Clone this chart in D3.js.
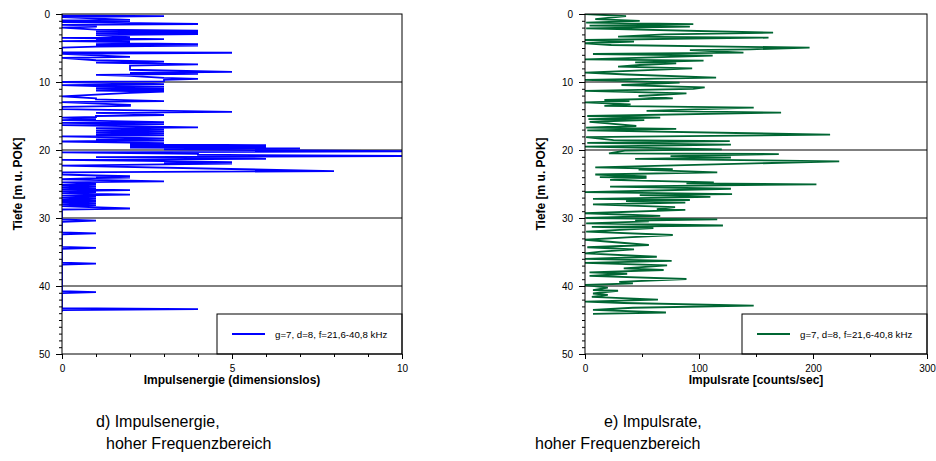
<!DOCTYPE html>
<html>
<head>
<meta charset="utf-8">
<script src="https://cdn.jsdelivr.net/npm/d3@7"></script>
<style>
  html, body { margin: 0; padding: 0; background: #fff; }
  svg { display: block; font-family: "Liberation Sans", Arial, sans-serif; }
</style>
</head>
<body>
<svg id="chart" width="936" height="461"></svg>
<script>
// Depth axis (m below POK), shared by both panels
const depthTicksMajor = [0, 10, 20, 30, 40, 50];
const depthTicksMinor = d3.range(0, 51, 1);

// Panel d: impulse energy, [depth, energy]
const energyProfile = [
  [0,0],[0.2,0],[0.3,3],[0.45,0],[0.85,2],[0.95,0],[1.05,2],[1.2,0],[1.47,4],[1.6,0],
  [1.7,1],[1.85,1],[2.0,0],[2.3,1],[2.45,4],[2.55,1],[2.7,4],[2.8,1],[2.95,4],[3.1,1],
  [3.4,2],[3.5,0],[3.7,3],[3.8,1],[3.9,2],[4.0,0],[4.1,2],[4.25,1],[4.45,4],[4.55,1],
  [4.65,4],[4.8,1],[4.95,0],[5.6,0],[5.7,5],[5.85,0],[6.3,2],[6.45,0],[6.8,1],[7.0,3],
  [7.15,1],[7.4,4],[7.6,2],[7.75,2],[7.9,2],[8.2,2],[8.5,5],[8.65,2],[8.8,4],[8.95,1],
  [9.1,2],[9.4,3],[9.55,4],[9.7,3],[9.9,3],[10.0,0],[10.3,3],[10.45,0],[10.6,1],[10.7,3],
  [10.8,1],[10.9,3],[11.0,1],[11.15,3],[11.25,1],[11.4,3],[11.6,2],[11.85,1],[12.1,0],[12.4,1],
  [12.55,1],[12.8,3],[12.95,0],[13.35,2],[13.5,2],[13.65,0],[14.0,0],[14.4,5],[14.55,1],[14.85,3],
  [15.0,1],[15.15,1],[15.25,0],[15.45,1],[15.6,0],[15.9,3],[16.0,0],[16.2,3],[16.35,0],[16.67,4],
  [16.8,1],[17.0,3],[17.15,1],[17.3,3],[17.45,1],[17.6,3],[17.75,1],[17.85,3],[18.0,0],[18.3,3],
  [18.45,1],[18.6,3],[18.75,0],[18.85,1],[19.0,3],[19.15,2],[19.3,6],[19.4,2],[19.55,6],[19.65,2],
  [19.75,7],[19.9,3],[20.2,10.5],[20.35,0],[20.55,4],[20.7,4],[20.9,10.5],[21.05,1],[21.3,6],[21.45,0],
  [21.65,3],[21.8,5],[21.9,3],[22.0,5],[22.1,3],[22.3,0],[23.1,8],[23.3,0],[23.6,0],[23.75,1],
  [23.85,2],[23.95,1],[24.05,2],[24.15,1],[24.3,0],[24.6,3],[24.75,0],[25.0,1],[25.15,0],[25.3,1],
  [25.45,0],[25.6,1],[25.75,0],[25.9,2],[26.05,0],[26.2,1],[26.35,0],[26.55,2],[26.7,0],[26.9,1],
  [27.05,0],[27.2,1],[27.35,0],[27.5,1],[27.65,0],[27.8,1],[27.95,0],[28.1,1],[28.25,0],[28.6,2],
  [28.75,0],[30.2,0],[30.4,1],[30.55,0],[32.1,0],[32.25,1],[32.4,0],[34.25,0],[34.4,1],[34.55,0],
  [36.55,0],[36.7,1],[36.85,0],[40.75,0],[40.9,1],[41.05,0],[43.25,0],[43.4,4],[43.55,0],[43.8,0]
];

// Panel e: impulse rate, [depth, counts/sec]
const rateProfile = [
  [0,0],[0.3,36],[0.74,9],[1.0,48],[1.27,1],[1.5,95],[1.7,4],[1.86,92],[2.1,1],[2.75,165],
  [3.0,70],[3.33,29],[3.48,161],[3.82,0],[4.07,43],[4.3,0],[4.56,23],[4.95,197],[5.2,145],[5.3,92],
  [5.69,139],[5.88,7],[6.13,112],[6.67,0],[6.86,104],[7.1,44],[7.25,80],[7.5,48],[7.75,29],[8.0,94],
  [8.63,0],[8.9,37],[9.36,115],[9.7,0],[10.1,83],[10.44,32],[10.8,105],[11.0,95],[11.3,0],[11.67,89],
  [12.06,47],[12.4,77],[12.65,17],[12.8,39],[13.0,0],[13.3,40],[13.5,17],[13.77,148],[14.26,54],[14.5,172],
  [15.0,2],[15.25,66],[15.45,3],[15.6,52],[15.85,4],[16.08,20],[16.47,45],[16.7,1],[16.9,80],[17.1,2],
  [17.75,215],[18.1,1],[18.55,25],[18.7,127],[18.95,2],[19.2,128],[19.5,0],[19.9,120],[20.1,35],[20.5,21],
  [20.6,170],[20.9,75],[21.1,128],[21.3,44],[21.67,223],[22.55,9],[22.8,77],[22.9,47],[23.3,116],[23.6,9],
  [23.9,54],[24.0,13],[24.1,54],[24.4,22],[24.75,113],[24.9,89],[25.05,203],[25.4,22],[25.7,128],[26.2,0],
  [26.5,129],[26.65,48],[26.9,110],[27.2,7],[27.35,92],[27.5,36],[27.75,88],[28.0,7],[28.4,79],[28.7,63],
  [28.8,88],[29.3,0],[29.7,66],[30.0,1],[30.2,116],[30.4,44],[30.5,56],[30.8,1],[31.1,121],[31.3,6],
  [31.5,60],[32.0,1],[32.5,77],[32.84,37],[33.2,0],[33.97,56],[34.3,2],[34.6,43],[34.95,14],[35.2,0],
  [35.7,63],[36.0,0],[36.3,76],[36.6,0],[36.96,72],[37.4,34],[37.65,69],[38.0,4],[38.2,37],[38.5,4],
  [38.97,89],[39.4,30],[39.6,42],[39.85,0],[40.25,20],[40.6,7],[40.7,29],[41.1,7],[41.3,20],[41.6,6],
  [42.0,64],[42.3,0],[42.5,34],[42.9,148],[43.2,42],[43.5,7],[43.9,71],[44.1,7]
];

const energyTicksMajor = [0, 5, 10];
const energyTicksMinor = d3.range(0, 11, 1);
const rateTicksMajor = [0, 100, 200, 300];
const rateTicksMinor = d3.range(0, 301, 50);

const legendLabel = "g=7, d=8, f=21,6-40,8 kHz";
const depthTitle = "Tiefe [m u. POK]";

const panels = [
  {
    id: "energy", left: 62, right: 402, domain: [0, 10],
    major: energyTicksMajor, minor: energyTicksMinor,
    data: energyProfile, color: "#0000ff",
    xTitle: "Impulsenergie (dimensionslos)",
    caption: [["d) Impulsenergie,", 96], ["hoher Frequenzbereich", 106]]
  },
  {
    id: "rate", left: 585, right: 927, domain: [0, 300],
    major: rateTicksMajor, minor: rateTicksMinor,
    data: rateProfile, color: "#006633",
    xTitle: "Impulsrate [counts/sec]",
    caption: [["e) Impulsrate,", 604], ["hoher Frequenzbereich", 535]]
  }
];

const plotTop = 14, plotBottom = 354;
const svg = d3.select("#chart");
const y = d3.scaleLinear().domain([0, 50]).range([plotTop, plotBottom]);

panels.forEach(p => {
  const x = d3.scaleLinear().domain(p.domain).range([p.left, p.right]);
  const g = svg.append("g");

  g.append("clipPath").attr("id", "clip-" + p.id)
    .append("rect")
    .attr("x", p.left).attr("y", plotTop)
    .attr("width", p.right - p.left).attr("height", plotBottom - plotTop);

  // horizontal grid lines every 10 m
  g.append("g").selectAll("line")
    .data([10, 20, 30, 40])
    .join("line")
    .attr("x1", p.left).attr("x2", p.right)
    .attr("y1", d => y(d)).attr("y2", d => y(d))
    .attr("stroke", "#000").attr("stroke-width", 1);

  // profile line
  const line = d3.line().x(d => x(d[1])).y(d => y(d[0]));
  g.append("path")
    .datum(p.data)
    .attr("clip-path", `url(#clip-${p.id})`)
    .attr("fill", "none")
    .attr("stroke", p.color)
    .attr("stroke-width", 1.8)
    .attr("stroke-linejoin", "miter")
    .attr("d", line);

  // legend
  const lg = g.append("g");
  const lx = p.right - 185;
  lg.append("rect")
    .attr("x", lx).attr("y", 314)
    .attr("width", p.right - lx).attr("height", plotBottom - 314)
    .attr("fill", "#fff").attr("stroke", "#000").attr("stroke-width", 1);
  lg.append("line")
    .attr("x1", lx + 15).attr("x2", lx + 48)
    .attr("y1", 334).attr("y2", 334)
    .attr("stroke", p.color).attr("stroke-width", 2);
  lg.append("text")
    .attr("x", lx + 58).attr("y", 337.5)
    .attr("font-size", "9.7px").attr("fill", "#000")
    .text(legendLabel);

  // frame
  g.append("rect")
    .attr("x", p.left).attr("y", plotTop)
    .attr("width", p.right - p.left).attr("height", plotBottom - plotTop)
    .attr("fill", "none").attr("stroke", "#000").attr("stroke-width", 1);

  // x axis: minor then major ticks with labels
  g.append("g")
    .attr("transform", `translate(0,${plotBottom})`)
    .call(d3.axisBottom(x).tickValues(p.minor).tickSize(3).tickFormat(""))
    .call(a => a.select(".domain").remove());
  g.append("g")
    .attr("transform", `translate(0,${plotBottom})`)
    .call(d3.axisBottom(x).tickValues(p.major).tickSize(5).tickPadding(6).tickFormat(d3.format("d")))
    .call(a => a.select(".domain").remove())
    .call(a => a.selectAll("text").attr("font-size", "10px").attr("font-family", "Liberation Sans, Arial, sans-serif"));

  // y axis
  g.append("g")
    .attr("transform", `translate(${p.left},0)`)
    .call(d3.axisLeft(y).tickValues(depthTicksMinor).tickSize(3).tickFormat(""))
    .call(a => a.select(".domain").remove());
  g.append("g")
    .attr("transform", `translate(${p.left},0)`)
    .call(d3.axisLeft(y).tickValues(depthTicksMajor).tickSize(6).tickPadding(6).tickFormat(d3.format("d")))
    .call(a => a.select(".domain").remove())
    .call(a => a.selectAll("text").attr("font-size", "10px").attr("font-family", "Liberation Sans, Arial, sans-serif"));

  // axis titles
  g.append("text")
    .attr("x", (p.left + p.right) / 2).attr("y", 384)
    .attr("text-anchor", "middle")
    .attr("font-size", "12px").attr("font-weight", "bold")
    .text(p.xTitle);
  g.append("text")
    .attr("transform", `translate(${p.left - 40},${(plotTop + plotBottom) / 2}) rotate(-90)`)
    .attr("text-anchor", "middle")
    .attr("font-size", "12px").attr("font-weight", "bold")
    .text(depthTitle);

  // caption
  g.selectAll("text.caption")
    .data(p.caption)
    .join("text")
    .attr("class", "caption")
    .attr("x", d => d[1])
    .attr("y", (d, i) => 427 + i * 22)
    .attr("font-size", "16px")
    .text(d => d[0]);
});
</script>
</body>
</html>
